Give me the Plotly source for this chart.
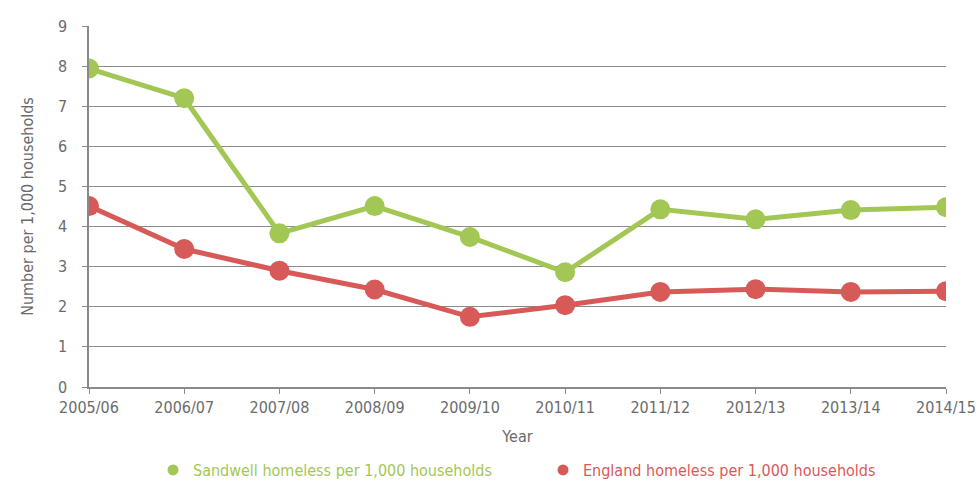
import plotly.graph_objects as go

years = ["2005/06", "2006/07", "2007/08", "2008/09", "2009/10",
         "2010/11", "2011/12", "2012/13", "2013/14", "2014/15"]
sandwell = [7.94, 7.2, 3.83, 4.51, 3.74, 2.86, 4.43, 4.18, 4.41, 4.48]
england = [4.51, 3.44, 2.90, 2.43, 1.75, 2.04, 2.37, 2.44, 2.37, 2.39]
names = ["Sandwell homeless per 1,000 households",
         "England homeless per 1,000 households"]

GREEN = "#a3c754"
RED = "#d75a58"
GREY = "#6b6b6b"
FONT = "DejaVu Sans Condensed, Liberation Sans Narrow, sans-serif"
FS = 16

fig = go.Figure()
for vals, col, nm in [(sandwell, GREEN, names[0]), (england, RED, names[1])]:
    fig.add_trace(go.Scatter(
        x=years, y=vals, mode="lines+markers", showlegend=False,
        line=dict(color=col, width=5), marker=dict(color=col, size=20),
    ))
for col, nm in [(GREEN, names[0]), (RED, names[1])]:
    fig.add_trace(go.Scatter(
        x=[None], y=[None], mode="markers",
        name=f"<span style='color:{col}'>{nm}</span>",
        marker=dict(color=col, size=11),
    ))

fig.update_layout(
    width=979, height=481,
    margin=dict(l=89, r=33, t=26, b=94),
    paper_bgcolor="white", plot_bgcolor="white",
    font=dict(family=FONT, size=FS, color=GREY),
    showlegend=True,
    legend=dict(orientation="h", xref="container", yref="container",
                x=153 / 979, xanchor="left", y=(481 - 470) / 481, yanchor="middle",
                entrywidth=345, entrywidthmode="pixels",
                font=dict(size=FS), traceorder="normal"),
    xaxis=dict(
        type="category", range=[0, 9], showgrid=False, automargin=False,
        showline=True, linecolor="#8a8a8a", linewidth=1.5,
        ticks="outside", ticklen=5, tickcolor="#8a8a8a",
        title=dict(text="Year", standoff=15, font=dict(size=FS, color=GREY)),
        tickfont=dict(size=FS, color=GREY),
    ),
    yaxis=dict(
        range=[0, 9], dtick=1, showgrid=True, gridcolor="#8a8a8a", gridwidth=1,
        showline=True, linecolor="#8a8a8a", linewidth=1.5, automargin=False,
        ticks="outside", ticklen=5, tickcolor="#8a8a8a", ticklabelstandoff=12,
        zeroline=False,
        title=dict(text="Number per 1,000 households", standoff=20,
                   font=dict(size=FS, color=GREY)),
        tickfont=dict(size=FS, color=GREY),
    ),
)

fig.write_html("out.html")
